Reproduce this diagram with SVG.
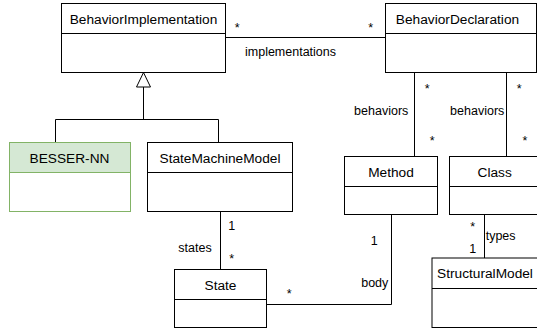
<svg xmlns="http://www.w3.org/2000/svg" width="537" height="330" viewBox="0 0 537 330">
<style>
.box{fill:#ffffff;stroke:#000000;stroke-width:1}
.green{fill:#ffffff;stroke:#82b366;stroke-width:1}
.ln{fill:none;stroke:#000000;stroke-width:1}
.dv{stroke:#000000;stroke-width:1}
.dvg{stroke:#82b366;stroke-width:1}
.name{font-family:"Liberation Sans",Arial,sans-serif;font-size:13.7px;fill:#000000;text-anchor:middle}
.lbl{font-family:"Liberation Sans",Arial,sans-serif;font-size:12.5px;fill:#000000}
.mid{text-anchor:middle}
.end{text-anchor:end}
</style>
<rect width="537" height="330" fill="#ffffff"/>
<g id="connectors">
  <path class="ln" d="M226,37.5 H385.5"/>
  <path class="ln" d="M55.5,142.5 V119.5 H218.5 V142.5 M143.5,119.5 V87"/>
  <polygon points="143.5,72.5 136.5,87 150.5,87" fill="#ffffff" stroke="#000000" stroke-width="1"/>
  <path class="ln" d="M414.5,72.5 V156.5"/>
  <path class="ln" d="M506.5,72.5 V156.5"/>
  <path class="ln" d="M220.5,211.5 V269.5"/>
  <path class="ln" d="M391.5,214.5 V304.5 H266.5"/>
  <path class="ln" d="M484.5,214.5 V258"/>
  <text class="lbl mid" x="237.3" y="32.3">*</text>
  <text class="lbl mid" x="370.7" y="32.3">*</text>
  <text class="lbl" x="245" y="56">implementations</text>
  <text class="lbl end" x="408.3" y="114.5">behaviors</text>
  <text class="lbl end" x="504.3" y="114.5">behaviors</text>
  <text class="lbl mid" x="427.3" y="93">*</text>
  <text class="lbl mid" x="519.3" y="93">*</text>
  <text class="lbl mid" x="432.3" y="145">*</text>
  <text class="lbl mid" x="525" y="145">*</text>
  <text class="lbl mid" x="231.7" y="229.5">1</text>
  <text class="lbl mid" x="231.7" y="263.3">*</text>
  <text class="lbl mid" x="195" y="252">states</text>
  <text class="lbl mid" x="289.3" y="298">*</text>
  <text class="lbl mid" x="374.3" y="244.5">1</text>
  <text class="lbl end" x="388.3" y="286.8">body</text>
  <text class="lbl mid" x="472.7" y="230.6">*</text>
  <text class="lbl mid" x="472.7" y="252.8">1</text>
  <text class="lbl" x="485.7" y="240">types</text>
</g>
<g id="BehaviorImplementation">
  <rect class="box" x="61.5" y="3.5" width="164" height="69"/>
  <line class="dv" x1="61.5" y1="33.5" x2="225.5" y2="33.5"/>
  <text class="name" x="143.5" y="23.5">BehaviorImplementation</text>
</g>
<g id="BehaviorDeclaration">
  <rect class="box" x="385.5" y="3.5" width="151" height="69"/>
  <line class="dv" x1="385.5" y1="33.5" x2="536.5" y2="33.5"/>
  <text class="name" x="457.5" y="23.5">BehaviorDeclaration</text>
</g>
<g id="BESSER-NN">
  <rect class="green" x="9.5" y="142.5" width="121" height="69"/>
  <rect x="10" y="143" width="120" height="29.5" fill="#d5e8d4"/>
  <line class="dvg" x1="9.5" y1="172.5" x2="130.5" y2="172.5"/>
  <text class="name" x="69.5" y="162.5">BESSER-NN</text>
</g>
<g id="StateMachineModel">
  <rect class="box" x="147.5" y="142.5" width="145" height="69"/>
  <line class="dv" x1="147.5" y1="172.5" x2="292.5" y2="172.5"/>
  <text class="name" x="220" y="162.5">StateMachineModel</text>
</g>
<g id="Method">
  <rect class="box" x="344.5" y="156.5" width="93" height="58"/>
  <line class="dv" x1="344.5" y1="186.5" x2="437.5" y2="186.5"/>
  <text class="name" x="391" y="176.5">Method</text>
</g>
<g id="Class">
  <rect class="box" x="449.5" y="156.5" width="92" height="58"/>
  <line class="dv" x1="449.5" y1="186.5" x2="541.5" y2="186.5"/>
  <text class="name" x="494.7" y="176.5">Class</text>
</g>
<g id="State">
  <rect class="box" x="174.5" y="269.5" width="92" height="58"/>
  <line class="dv" x1="174.5" y1="299.5" x2="266.5" y2="299.5"/>
  <text class="name" x="220.5" y="289.5">State</text>
</g>
<g id="StructuralModel">
  <rect class="box" x="432" y="258" width="106" height="69.5"/>
  <line class="dv" x1="432" y1="288.5" x2="538" y2="288.5"/>
  <text class="name" x="485" y="278.3">StructuralModel</text>
</g>
</svg>
